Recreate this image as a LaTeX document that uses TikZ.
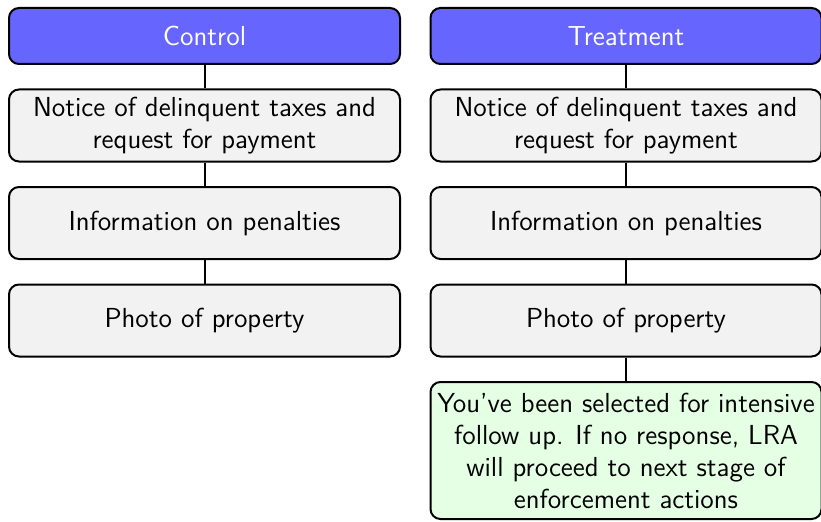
\documentclass[tikz,border=0pt]{standalone}
\usepackage{tikz}
\usetikzlibrary{positioning}
\renewcommand{\familydefault}{\sfdefault}
\hyphenpenalty=10000
\exhyphenpenalty=10000

\begin{document}
\begin{tikzpicture}[
  node distance=9.4pt,
  box/.style={draw, thick, rounded corners=4pt, fill=gray!10, text width=154pt, align=flush center,
    minimum height=28.8pt, inner sep=1.2pt, font=\fontsize{11}{12.8}\selectfont},
  head/.style={box, fill=blue!60, text=white, minimum height=22.4pt},
  extra/.style={box, fill=green!10, minimum height=54.8pt}
]
\useasboundingbox (0,0) rectangle (328.4pt,-208.4pt);

% control arm
\node[head] (ctrl) at (81.8pt,-14.4pt) {Control};
\node[box, below=of ctrl] (c1) {Notice of delinquent taxes and request for payment};
\node[box, below=of c1] (c2) {Information on penalties};
\node[box, below=of c2] (c3) {Photo of property};

% treatment arm
\node[head] (treat) at (250.4pt,-14.4pt) {Treatment};
\node[box, below=of treat] (t1) {Notice of delinquent taxes and request for payment};
\node[box, below=of t1] (t2) {Information on penalties};
\node[box, below=of t2] (t3) {Photo of property};
\node[extra, below=of t3] (t4) {You've been selected for intensive follow up. If no response, LRA will proceed to next stage of enforcement actions};

\draw[thick] (ctrl) -- (c1);
\draw[thick] (c1) -- (c2);
\draw[thick] (c2) -- (c3);
\draw[thick] (treat) -- (t1);
\draw[thick] (t1) -- (t2);
\draw[thick] (t2) -- (t3);
\draw[thick] (t3) -- (t4);
\end{tikzpicture}
\end{document}
